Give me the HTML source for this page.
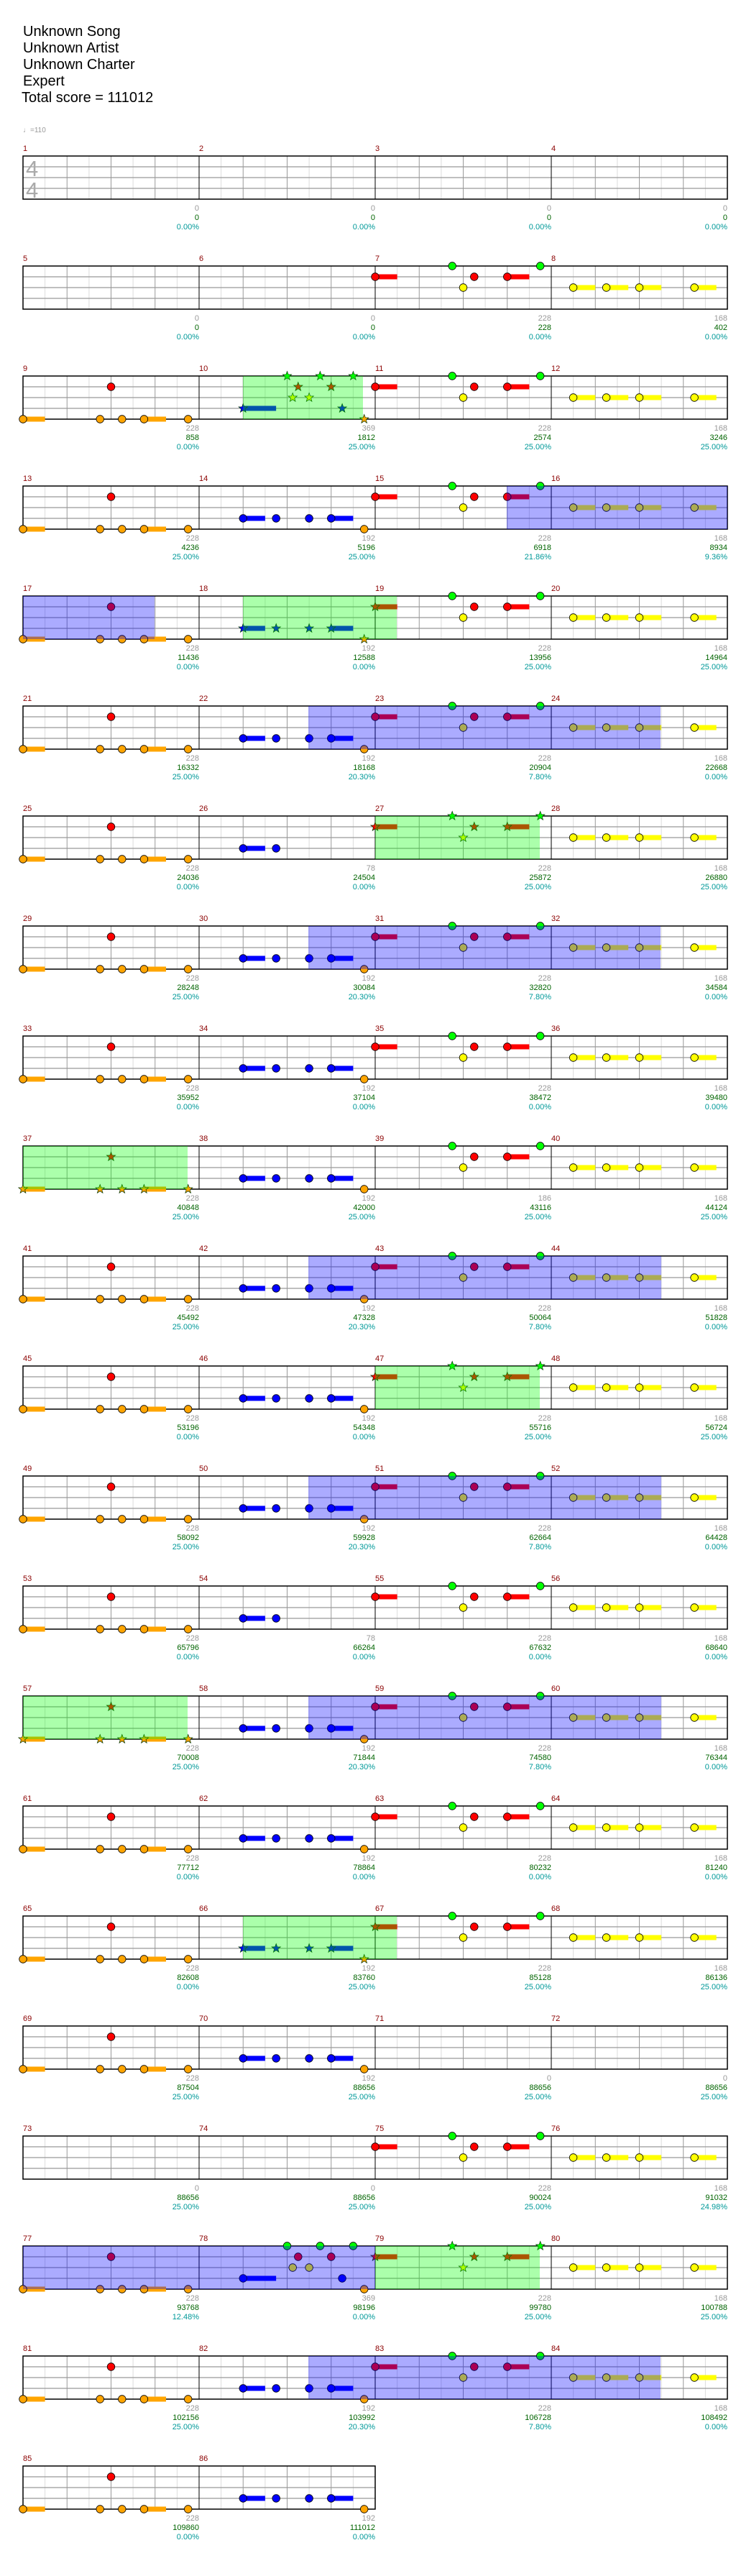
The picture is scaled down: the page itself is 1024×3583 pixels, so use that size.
<!DOCTYPE html>
<html><head><meta charset="utf-8"><style>
html,body{margin:0;padding:0;background:#fff;}
svg{display:block;}
.t{font-family:"Liberation Sans",sans-serif;font-size:20px;fill:#000;}
.mn{font-family:"Liberation Sans",sans-serif;font-size:11px;fill:#8b0000;}
.g{font-family:"Liberation Sans",sans-serif;font-size:11px;fill:#999;text-anchor:end;}
.s{font-family:"Liberation Sans",sans-serif;font-size:11px;fill:#006400;text-anchor:end;}
.p{font-family:"Liberation Sans",sans-serif;font-size:11px;fill:#009999;text-anchor:end;}
</style></head><body>
<svg width="1024" height="3583" viewBox="0 0 1024 3583" xmlns="http://www.w3.org/2000/svg">
<defs>
<g id="st">
<rect x="0" y="0" width="980" height="60" fill="#fff"/>
<path d="M30.6 0V60M91.9 0V60M153.1 0V60M214.4 0V60M275.6 0V60M336.9 0V60M398.1 0V60M459.4 0V60M520.6 0V60M581.9 0V60M643.1 0V60M704.4 0V60M765.6 0V60M826.9 0V60M888.1 0V60M949.4 0V60" stroke="#ddd" stroke-width="1"/>
<path d="M61.25 0V60M122.5 0V60M183.75 0V60M306.25 0V60M367.5 0V60M428.75 0V60M551.25 0V60M612.5 0V60M673.75 0V60M796.25 0V60M857.5 0V60M918.75 0V60" stroke="#999" stroke-width="1"/>
<path d="M0 15H980M0 30H980M0 45H980" stroke="#999" stroke-width="1.3"/>
<path d="M245 0V60M490 0V60M735 0V60" stroke="#000" stroke-width="1"/>
<rect x="0" y="0" width="980" height="60" fill="none" stroke="#000" stroke-width="1.5"/>
</g>
<g id="st2">
<rect x="0" y="0" width="490" height="60" fill="#fff"/>
<path d="M30.6 0V60M91.9 0V60M153.1 0V60M214.4 0V60M275.6 0V60M336.9 0V60M398.1 0V60M459.4 0V60" stroke="#ddd" stroke-width="1"/>
<path d="M61.25 0V60M122.5 0V60M183.75 0V60M306.25 0V60M367.5 0V60M428.75 0V60" stroke="#999" stroke-width="1"/>
<path d="M0 15H490M0 30H490M0 45H490" stroke="#999" stroke-width="1.3"/>
<path d="M245 0V60" stroke="#000" stroke-width="1"/>
<rect x="0" y="0" width="490" height="60" fill="none" stroke="#000" stroke-width="1.5"/>
</g>
<circle id="nG" r="5.3" fill="#00ff00" stroke="#000" stroke-width=".8"/>
<circle id="nR" r="5.3" fill="#ff0000" stroke="#000" stroke-width=".8"/>
<circle id="nY" r="5.3" fill="#ffff00" stroke="#000" stroke-width=".8"/>
<circle id="nB" r="5.3" fill="#0000ff" stroke="#000" stroke-width=".8"/>
<circle id="nO" r="5.3" fill="#ffa500" stroke="#000" stroke-width=".8"/>
<polygon id="sG" points="0,-6.5 1.59,-2.18 6.18,-2.01 2.57,0.83 3.82,5.26 0,2.7 -3.82,5.26 -2.57,0.83 -6.18,-2.01 -1.59,-2.18" fill="#00ff00" stroke="#030" stroke-width=".7"/>
<polygon id="sR" points="0,-6.5 1.59,-2.18 6.18,-2.01 2.57,0.83 3.82,5.26 0,2.7 -3.82,5.26 -2.57,0.83 -6.18,-2.01 -1.59,-2.18" fill="#ff0000" stroke="#030" stroke-width=".7"/>
<polygon id="sY" points="0,-6.5 1.59,-2.18 6.18,-2.01 2.57,0.83 3.82,5.26 0,2.7 -3.82,5.26 -2.57,0.83 -6.18,-2.01 -1.59,-2.18" fill="#ffff00" stroke="#030" stroke-width=".7"/>
<polygon id="sB" points="0,-6.5 1.59,-2.18 6.18,-2.01 2.57,0.83 3.82,5.26 0,2.7 -3.82,5.26 -2.57,0.83 -6.18,-2.01 -1.59,-2.18" fill="#0000ff" stroke="#030" stroke-width=".7"/>
<polygon id="sO" points="0,-6.5 1.59,-2.18 6.18,-2.01 2.57,0.83 3.82,5.26 0,2.7 -3.82,5.26 -2.57,0.83 -6.18,-2.01 -1.59,-2.18" fill="#ffa500" stroke="#030" stroke-width=".7"/>

<g id="mO">
<rect x="0" y="56.5" width="30.6" height="7" fill="#ffa500"/><rect x="168.4" y="56.5" width="30.6" height="7" fill="#ffa500"/>
<use href="#nO" x="0" y="60"/><use href="#nO" x="107.2" y="60"/><use href="#nO" x="137.8" y="60"/><use href="#nO" x="168.4" y="60"/><use href="#nO" x="229.7" y="60"/><use href="#nR" x="122.5" y="15"/>
</g>
<g id="mOS">
<rect x="0" y="56.5" width="30.6" height="7" fill="#ffa500"/><rect x="168.4" y="56.5" width="30.6" height="7" fill="#ffa500"/>
<use href="#sO" x="0" y="60"/><use href="#sO" x="107.2" y="60"/><use href="#sO" x="137.8" y="60"/><use href="#sO" x="168.4" y="60"/><use href="#sO" x="229.7" y="60"/><use href="#sR" x="122.5" y="15"/>
</g>
<g id="mB">
<rect x="61.25" y="41.5" width="30.6" height="7" fill="#0000ff"/><rect x="183.75" y="41.5" width="30.6" height="7" fill="#0000ff"/>
<use href="#nB" x="61.25" y="45"/><use href="#nB" x="107.2" y="45"/><use href="#nB" x="153.1" y="45"/><use href="#nB" x="183.75" y="45"/><use href="#nO" x="229.7" y="60"/>
</g>
<g id="mBS">
<rect x="61.25" y="41.5" width="30.6" height="7" fill="#0000ff"/><rect x="183.75" y="41.5" width="30.6" height="7" fill="#0000ff"/>
<use href="#sB" x="61.25" y="45"/><use href="#sB" x="107.2" y="45"/><use href="#sB" x="153.1" y="45"/><use href="#sB" x="183.75" y="45"/><use href="#sO" x="229.7" y="60"/>
</g>
<g id="mB2">
<rect x="61.25" y="41.5" width="30.6" height="7" fill="#0000ff"/>
<use href="#nB" x="61.25" y="45"/><use href="#nB" x="107.2" y="45"/>
</g>
<g id="mRt">
<rect x="183.75" y="11.5" width="30.6" height="7" fill="#ff0000"/>
<use href="#nG" x="107.2" y="0"/><use href="#nY" x="122.5" y="30"/><use href="#nR" x="137.8" y="15"/><use href="#nR" x="183.75" y="15"/><use href="#nG" x="229.7" y="0"/>
</g>
<g id="mR">
<rect x="0" y="11.5" width="30.6" height="7" fill="#ff0000"/><use href="#nR" x="0" y="15"/><use href="#mRt"/>
</g>
<g id="mRs0">
<rect x="0" y="11.5" width="30.6" height="7" fill="#ff0000"/><use href="#sR" x="0" y="15"/><use href="#mRt"/>
</g>
<g id="mRS">
<rect x="0" y="11.5" width="30.6" height="7" fill="#ff0000"/><rect x="183.75" y="11.5" width="30.6" height="7" fill="#ff0000"/>
<use href="#sR" x="0" y="15"/><use href="#sG" x="107.2" y="0"/><use href="#sY" x="122.5" y="30"/><use href="#sR" x="137.8" y="15"/><use href="#sR" x="183.75" y="15"/><use href="#sG" x="229.7" y="0"/>
</g>
<g id="mY">
<rect x="30.6" y="26.5" width="30.6" height="7" fill="#ffff00"/><rect x="76.6" y="26.5" width="30.6" height="7" fill="#ffff00"/><rect x="122.5" y="26.5" width="30.6" height="7" fill="#ffff00"/><rect x="199.1" y="26.5" width="30.6" height="7" fill="#ffff00"/>
<use href="#nY" x="30.6" y="30"/><use href="#nY" x="76.6" y="30"/><use href="#nY" x="122.5" y="30"/><use href="#nY" x="199.1" y="30"/>
</g>
<g id="mX">
<rect x="61.25" y="41.5" width="45.9" height="7" fill="#0000ff"/>
<use href="#sB" x="61.25" y="45"/><use href="#sG" x="122.5" y="0"/><use href="#sG" x="168.4" y="0"/><use href="#sG" x="214.4" y="0"/><use href="#sR" x="137.8" y="15"/><use href="#sR" x="183.75" y="15"/><use href="#sY" x="130.2" y="30"/><use href="#sY" x="153.1" y="30"/><use href="#sB" x="199.1" y="45"/><use href="#sO" x="229.7" y="60"/>
</g>
<g id="mXc">
<rect x="61.25" y="41.5" width="45.9" height="7" fill="#0000ff"/>
<use href="#nB" x="61.25" y="45"/><use href="#nG" x="122.5" y="0"/><use href="#nG" x="168.4" y="0"/><use href="#nG" x="214.4" y="0"/><use href="#nR" x="137.8" y="15"/><use href="#nR" x="183.75" y="15"/><use href="#nY" x="130.2" y="30"/><use href="#nY" x="153.1" y="30"/><use href="#nB" x="199.1" y="45"/><use href="#nO" x="229.7" y="60"/>
</g>
</defs>

<rect width="1024" height="3583" fill="#fff"/>
<text class="t" x="32" y="50">Unknown Song</text>
<text class="t" x="32" y="73">Unknown Artist</text>
<text class="t" x="32" y="96">Unknown Charter</text>
<text class="t" x="32" y="119">Expert</text>
<text class="t" x="30" y="142">Total score = 111012</text>
<text x="32" y="184" style="font-family:'Liberation Sans','DejaVu Sans',sans-serif;font-size:10px;fill:#999">♩=110</text>

<!-- Row 1 -->
<g transform="translate(0,217)">
<use href="#st" x="32" y="0"/>
<text x="36" y="28" style="font-family:'Liberation Sans',sans-serif;font-size:31px;fill:#aaa">4</text>
<text x="36" y="58" style="font-family:'Liberation Sans',sans-serif;font-size:31px;fill:#aaa">4</text>
<text class="mn" x="32" y="-7">1</text><text class="mn" x="277" y="-7">2</text><text class="mn" x="522" y="-7">3</text><text class="mn" x="767" y="-7">4</text>
<text class="g" x="277" y="76">0</text><text class="s" x="277" y="89">0</text><text class="p" x="277" y="102">0.00%</text>
<text class="g" x="522" y="76">0</text><text class="s" x="522" y="89">0</text><text class="p" x="522" y="102">0.00%</text>
<text class="g" x="767" y="76">0</text><text class="s" x="767" y="89">0</text><text class="p" x="767" y="102">0.00%</text>
<text class="g" x="1012" y="76">0</text><text class="s" x="1012" y="89">0</text><text class="p" x="1012" y="102">0.00%</text>
</g>

<!-- Row 2 -->
<g transform="translate(0,370)">
<use href="#st" x="32" y="0"/>
<use href="#mR" x="522" y="0"/><use href="#mY" x="767" y="0"/>
<text class="mn" x="32" y="-7">5</text><text class="mn" x="277" y="-7">6</text><text class="mn" x="522" y="-7">7</text><text class="mn" x="767" y="-7">8</text>
<text class="g" x="277" y="76">0</text><text class="s" x="277" y="89">0</text><text class="p" x="277" y="102">0.00%</text>
<text class="g" x="522" y="76">0</text><text class="s" x="522" y="89">0</text><text class="p" x="522" y="102">0.00%</text>
<text class="g" x="767" y="76">228</text><text class="s" x="767" y="89">228</text><text class="p" x="767" y="102">0.00%</text>
<text class="g" x="1012" y="76">168</text><text class="s" x="1012" y="89">402</text><text class="p" x="1012" y="102">0.00%</text>
</g>

<!-- Row 3 -->
<g transform="translate(0,523)">
<use href="#st" x="32" y="0"/>
<use href="#mO" x="32" y="0"/><use href="#mX" x="277" y="0"/><use href="#mR" x="522" y="0"/><use href="#mY" x="767" y="0"/>
<rect x="338" y="0" width="167" height="60" fill="rgba(0,255,0,0.33)"/>
<text class="mn" x="32" y="-7">9</text><text class="mn" x="277" y="-7">10</text><text class="mn" x="522" y="-7">11</text><text class="mn" x="767" y="-7">12</text>
<text class="g" x="277" y="76">228</text><text class="s" x="277" y="89">858</text><text class="p" x="277" y="102">0.00%</text>
<text class="g" x="522" y="76">369</text><text class="s" x="522" y="89">1812</text><text class="p" x="522" y="102">25.00%</text>
<text class="g" x="767" y="76">228</text><text class="s" x="767" y="89">2574</text><text class="p" x="767" y="102">25.00%</text>
<text class="g" x="1012" y="76">168</text><text class="s" x="1012" y="89">3246</text><text class="p" x="1012" y="102">25.00%</text>
</g>

<!-- Row 4 -->
<g transform="translate(0,676)">
<use href="#st" x="32" y="0"/>
<use href="#mO" x="32" y="0"/><use href="#mB" x="277" y="0"/><use href="#mR" x="522" y="0"/><use href="#mY" x="767" y="0"/>
<rect x="705" y="0" width="307" height="60" fill="rgba(0,0,255,0.33)"/>
<text class="mn" x="32" y="-7">13</text><text class="mn" x="277" y="-7">14</text><text class="mn" x="522" y="-7">15</text><text class="mn" x="767" y="-7">16</text>
<text class="g" x="277" y="76">228</text><text class="s" x="277" y="89">4236</text><text class="p" x="277" y="102">25.00%</text>
<text class="g" x="522" y="76">192</text><text class="s" x="522" y="89">5196</text><text class="p" x="522" y="102">25.00%</text>
<text class="g" x="767" y="76">228</text><text class="s" x="767" y="89">6918</text><text class="p" x="767" y="102">21.86%</text>
<text class="g" x="1012" y="76">168</text><text class="s" x="1012" y="89">8934</text><text class="p" x="1012" y="102">9.36%</text>
</g>

<!-- Row 5 -->
<g transform="translate(0,829)">
<use href="#st" x="32" y="0"/>
<use href="#mO" x="32" y="0"/><use href="#mBS" x="277" y="0"/><use href="#mRs0" x="522" y="0"/><use href="#mY" x="767" y="0"/>
<rect x="32" y="0" width="183" height="60" fill="rgba(0,0,255,0.33)"/>
<rect x="338" y="0" width="214" height="60" fill="rgba(0,255,0,0.33)"/>
<text class="mn" x="32" y="-7">17</text><text class="mn" x="277" y="-7">18</text><text class="mn" x="522" y="-7">19</text><text class="mn" x="767" y="-7">20</text>
<text class="g" x="277" y="76">228</text><text class="s" x="277" y="89">11436</text><text class="p" x="277" y="102">0.00%</text>
<text class="g" x="522" y="76">192</text><text class="s" x="522" y="89">12588</text><text class="p" x="522" y="102">0.00%</text>
<text class="g" x="767" y="76">228</text><text class="s" x="767" y="89">13956</text><text class="p" x="767" y="102">25.00%</text>
<text class="g" x="1012" y="76">168</text><text class="s" x="1012" y="89">14964</text><text class="p" x="1012" y="102">25.00%</text>
</g>

<!-- Row 6 -->
<g transform="translate(0,982)">
<use href="#st" x="32" y="0"/>
<use href="#mO" x="32" y="0"/><use href="#mB" x="277" y="0"/><use href="#mR" x="522" y="0"/><use href="#mY" x="767" y="0"/>
<rect x="429" y="0" width="490" height="60" fill="rgba(0,0,255,0.33)"/>
<text class="mn" x="32" y="-7">21</text><text class="mn" x="277" y="-7">22</text><text class="mn" x="522" y="-7">23</text><text class="mn" x="767" y="-7">24</text>
<text class="g" x="277" y="76">228</text><text class="s" x="277" y="89">16332</text><text class="p" x="277" y="102">25.00%</text>
<text class="g" x="522" y="76">192</text><text class="s" x="522" y="89">18168</text><text class="p" x="522" y="102">20.30%</text>
<text class="g" x="767" y="76">228</text><text class="s" x="767" y="89">20904</text><text class="p" x="767" y="102">7.80%</text>
<text class="g" x="1012" y="76">168</text><text class="s" x="1012" y="89">22668</text><text class="p" x="1012" y="102">0.00%</text>
</g>

<!-- Row 7 -->
<g transform="translate(0,1135)">
<use href="#st" x="32" y="0"/>
<use href="#mO" x="32" y="0"/><use href="#mB2" x="277" y="0"/><use href="#mRS" x="522" y="0"/><use href="#mY" x="767" y="0"/>
<rect x="522" y="0" width="229" height="60" fill="rgba(0,255,0,0.33)"/>
<text class="mn" x="32" y="-7">25</text><text class="mn" x="277" y="-7">26</text><text class="mn" x="522" y="-7">27</text><text class="mn" x="767" y="-7">28</text>
<text class="g" x="277" y="76">228</text><text class="s" x="277" y="89">24036</text><text class="p" x="277" y="102">0.00%</text>
<text class="g" x="522" y="76">78</text><text class="s" x="522" y="89">24504</text><text class="p" x="522" y="102">0.00%</text>
<text class="g" x="767" y="76">228</text><text class="s" x="767" y="89">25872</text><text class="p" x="767" y="102">25.00%</text>
<text class="g" x="1012" y="76">168</text><text class="s" x="1012" y="89">26880</text><text class="p" x="1012" y="102">25.00%</text>
</g>

<!-- Row 8 -->
<g transform="translate(0,1288)">
<use href="#st" x="32" y="0"/>
<use href="#mO" x="32" y="0"/><use href="#mB" x="277" y="0"/><use href="#mR" x="522" y="0"/><use href="#mY" x="767" y="0"/>
<rect x="429" y="0" width="490" height="60" fill="rgba(0,0,255,0.33)"/>
<text class="mn" x="32" y="-7">29</text><text class="mn" x="277" y="-7">30</text><text class="mn" x="522" y="-7">31</text><text class="mn" x="767" y="-7">32</text>
<text class="g" x="277" y="76">228</text><text class="s" x="277" y="89">28248</text><text class="p" x="277" y="102">25.00%</text>
<text class="g" x="522" y="76">192</text><text class="s" x="522" y="89">30084</text><text class="p" x="522" y="102">20.30%</text>
<text class="g" x="767" y="76">228</text><text class="s" x="767" y="89">32820</text><text class="p" x="767" y="102">7.80%</text>
<text class="g" x="1012" y="76">168</text><text class="s" x="1012" y="89">34584</text><text class="p" x="1012" y="102">0.00%</text>
</g>

<!-- Row 9 -->
<g transform="translate(0,1441)">
<use href="#st" x="32" y="0"/>
<use href="#mO" x="32" y="0"/><use href="#mB" x="277" y="0"/><use href="#mR" x="522" y="0"/><use href="#mY" x="767" y="0"/>
<text class="mn" x="32" y="-7">33</text><text class="mn" x="277" y="-7">34</text><text class="mn" x="522" y="-7">35</text><text class="mn" x="767" y="-7">36</text>
<text class="g" x="277" y="76">228</text><text class="s" x="277" y="89">35952</text><text class="p" x="277" y="102">0.00%</text>
<text class="g" x="522" y="76">192</text><text class="s" x="522" y="89">37104</text><text class="p" x="522" y="102">0.00%</text>
<text class="g" x="767" y="76">228</text><text class="s" x="767" y="89">38472</text><text class="p" x="767" y="102">0.00%</text>
<text class="g" x="1012" y="76">168</text><text class="s" x="1012" y="89">39480</text><text class="p" x="1012" y="102">0.00%</text>
</g>

<!-- Row 10 -->
<g transform="translate(0,1594)">
<use href="#st" x="32" y="0"/>
<use href="#mOS" x="32" y="0"/><use href="#mB" x="277" y="0"/><use href="#mRt" x="522" y="0"/><use href="#mY" x="767" y="0"/>
<rect x="32" y="0" width="229" height="60" fill="rgba(0,255,0,0.33)"/>
<text class="mn" x="32" y="-7">37</text><text class="mn" x="277" y="-7">38</text><text class="mn" x="522" y="-7">39</text><text class="mn" x="767" y="-7">40</text>
<text class="g" x="277" y="76">228</text><text class="s" x="277" y="89">40848</text><text class="p" x="277" y="102">25.00%</text>
<text class="g" x="522" y="76">192</text><text class="s" x="522" y="89">42000</text><text class="p" x="522" y="102">25.00%</text>
<text class="g" x="767" y="76">186</text><text class="s" x="767" y="89">43116</text><text class="p" x="767" y="102">25.00%</text>
<text class="g" x="1012" y="76">168</text><text class="s" x="1012" y="89">44124</text><text class="p" x="1012" y="102">25.00%</text>
</g>

<!-- Row 11 -->
<g transform="translate(0,1747)">
<use href="#st" x="32" y="0"/>
<use href="#mO" x="32" y="0"/><use href="#mB" x="277" y="0"/><use href="#mR" x="522" y="0"/><use href="#mY" x="767" y="0"/>
<rect x="429" y="0" width="491" height="60" fill="rgba(0,0,255,0.33)"/>
<text class="mn" x="32" y="-7">41</text><text class="mn" x="277" y="-7">42</text><text class="mn" x="522" y="-7">43</text><text class="mn" x="767" y="-7">44</text>
<text class="g" x="277" y="76">228</text><text class="s" x="277" y="89">45492</text><text class="p" x="277" y="102">25.00%</text>
<text class="g" x="522" y="76">192</text><text class="s" x="522" y="89">47328</text><text class="p" x="522" y="102">20.30%</text>
<text class="g" x="767" y="76">228</text><text class="s" x="767" y="89">50064</text><text class="p" x="767" y="102">7.80%</text>
<text class="g" x="1012" y="76">168</text><text class="s" x="1012" y="89">51828</text><text class="p" x="1012" y="102">0.00%</text>
</g>

<!-- Row 12 -->
<g transform="translate(0,1900)">
<use href="#st" x="32" y="0"/>
<use href="#mO" x="32" y="0"/><use href="#mB" x="277" y="0"/><use href="#mRS" x="522" y="0"/><use href="#mY" x="767" y="0"/>
<rect x="522" y="0" width="229" height="60" fill="rgba(0,255,0,0.33)"/>
<text class="mn" x="32" y="-7">45</text><text class="mn" x="277" y="-7">46</text><text class="mn" x="522" y="-7">47</text><text class="mn" x="767" y="-7">48</text>
<text class="g" x="277" y="76">228</text><text class="s" x="277" y="89">53196</text><text class="p" x="277" y="102">0.00%</text>
<text class="g" x="522" y="76">192</text><text class="s" x="522" y="89">54348</text><text class="p" x="522" y="102">0.00%</text>
<text class="g" x="767" y="76">228</text><text class="s" x="767" y="89">55716</text><text class="p" x="767" y="102">25.00%</text>
<text class="g" x="1012" y="76">168</text><text class="s" x="1012" y="89">56724</text><text class="p" x="1012" y="102">25.00%</text>
</g>

<!-- Row 13 -->
<g transform="translate(0,2053)">
<use href="#st" x="32" y="0"/>
<use href="#mO" x="32" y="0"/><use href="#mB" x="277" y="0"/><use href="#mR" x="522" y="0"/><use href="#mY" x="767" y="0"/>
<rect x="429" y="0" width="491" height="60" fill="rgba(0,0,255,0.33)"/>
<text class="mn" x="32" y="-7">49</text><text class="mn" x="277" y="-7">50</text><text class="mn" x="522" y="-7">51</text><text class="mn" x="767" y="-7">52</text>
<text class="g" x="277" y="76">228</text><text class="s" x="277" y="89">58092</text><text class="p" x="277" y="102">25.00%</text>
<text class="g" x="522" y="76">192</text><text class="s" x="522" y="89">59928</text><text class="p" x="522" y="102">20.30%</text>
<text class="g" x="767" y="76">228</text><text class="s" x="767" y="89">62664</text><text class="p" x="767" y="102">7.80%</text>
<text class="g" x="1012" y="76">168</text><text class="s" x="1012" y="89">64428</text><text class="p" x="1012" y="102">0.00%</text>
</g>

<!-- Row 14 -->
<g transform="translate(0,2206)">
<use href="#st" x="32" y="0"/>
<use href="#mO" x="32" y="0"/><use href="#mB2" x="277" y="0"/><use href="#mR" x="522" y="0"/><use href="#mY" x="767" y="0"/>
<text class="mn" x="32" y="-7">53</text><text class="mn" x="277" y="-7">54</text><text class="mn" x="522" y="-7">55</text><text class="mn" x="767" y="-7">56</text>
<text class="g" x="277" y="76">228</text><text class="s" x="277" y="89">65796</text><text class="p" x="277" y="102">0.00%</text>
<text class="g" x="522" y="76">78</text><text class="s" x="522" y="89">66264</text><text class="p" x="522" y="102">0.00%</text>
<text class="g" x="767" y="76">228</text><text class="s" x="767" y="89">67632</text><text class="p" x="767" y="102">0.00%</text>
<text class="g" x="1012" y="76">168</text><text class="s" x="1012" y="89">68640</text><text class="p" x="1012" y="102">0.00%</text>
</g>

<!-- Row 15 -->
<g transform="translate(0,2359)">
<use href="#st" x="32" y="0"/>
<use href="#mOS" x="32" y="0"/><use href="#mB" x="277" y="0"/><use href="#mR" x="522" y="0"/><use href="#mY" x="767" y="0"/>
<rect x="32" y="0" width="229" height="60" fill="rgba(0,255,0,0.33)"/>
<rect x="429" y="0" width="491" height="60" fill="rgba(0,0,255,0.33)"/>
<text class="mn" x="32" y="-7">57</text><text class="mn" x="277" y="-7">58</text><text class="mn" x="522" y="-7">59</text><text class="mn" x="767" y="-7">60</text>
<text class="g" x="277" y="76">228</text><text class="s" x="277" y="89">70008</text><text class="p" x="277" y="102">25.00%</text>
<text class="g" x="522" y="76">192</text><text class="s" x="522" y="89">71844</text><text class="p" x="522" y="102">20.30%</text>
<text class="g" x="767" y="76">228</text><text class="s" x="767" y="89">74580</text><text class="p" x="767" y="102">7.80%</text>
<text class="g" x="1012" y="76">168</text><text class="s" x="1012" y="89">76344</text><text class="p" x="1012" y="102">0.00%</text>
</g>

<!-- Row 16 -->
<g transform="translate(0,2512)">
<use href="#st" x="32" y="0"/>
<use href="#mO" x="32" y="0"/><use href="#mB" x="277" y="0"/><use href="#mR" x="522" y="0"/><use href="#mY" x="767" y="0"/>
<text class="mn" x="32" y="-7">61</text><text class="mn" x="277" y="-7">62</text><text class="mn" x="522" y="-7">63</text><text class="mn" x="767" y="-7">64</text>
<text class="g" x="277" y="76">228</text><text class="s" x="277" y="89">77712</text><text class="p" x="277" y="102">0.00%</text>
<text class="g" x="522" y="76">192</text><text class="s" x="522" y="89">78864</text><text class="p" x="522" y="102">0.00%</text>
<text class="g" x="767" y="76">228</text><text class="s" x="767" y="89">80232</text><text class="p" x="767" y="102">0.00%</text>
<text class="g" x="1012" y="76">168</text><text class="s" x="1012" y="89">81240</text><text class="p" x="1012" y="102">0.00%</text>
</g>

<!-- Row 17 -->
<g transform="translate(0,2665)">
<use href="#st" x="32" y="0"/>
<use href="#mO" x="32" y="0"/><use href="#mBS" x="277" y="0"/><use href="#mRs0" x="522" y="0"/><use href="#mY" x="767" y="0"/>
<rect x="338" y="0" width="214" height="60" fill="rgba(0,255,0,0.33)"/>
<text class="mn" x="32" y="-7">65</text><text class="mn" x="277" y="-7">66</text><text class="mn" x="522" y="-7">67</text><text class="mn" x="767" y="-7">68</text>
<text class="g" x="277" y="76">228</text><text class="s" x="277" y="89">82608</text><text class="p" x="277" y="102">0.00%</text>
<text class="g" x="522" y="76">192</text><text class="s" x="522" y="89">83760</text><text class="p" x="522" y="102">25.00%</text>
<text class="g" x="767" y="76">228</text><text class="s" x="767" y="89">85128</text><text class="p" x="767" y="102">25.00%</text>
<text class="g" x="1012" y="76">168</text><text class="s" x="1012" y="89">86136</text><text class="p" x="1012" y="102">25.00%</text>
</g>

<!-- Row 18 -->
<g transform="translate(0,2818)">
<use href="#st" x="32" y="0"/>
<use href="#mO" x="32" y="0"/><use href="#mB" x="277" y="0"/>
<text class="mn" x="32" y="-7">69</text><text class="mn" x="277" y="-7">70</text><text class="mn" x="522" y="-7">71</text><text class="mn" x="767" y="-7">72</text>
<text class="g" x="277" y="76">228</text><text class="s" x="277" y="89">87504</text><text class="p" x="277" y="102">25.00%</text>
<text class="g" x="522" y="76">192</text><text class="s" x="522" y="89">88656</text><text class="p" x="522" y="102">25.00%</text>
<text class="g" x="767" y="76">0</text><text class="s" x="767" y="89">88656</text><text class="p" x="767" y="102">25.00%</text>
<text class="g" x="1012" y="76">0</text><text class="s" x="1012" y="89">88656</text><text class="p" x="1012" y="102">25.00%</text>
</g>

<!-- Row 19 -->
<g transform="translate(0,2971)">
<use href="#st" x="32" y="0"/>
<use href="#mR" x="522" y="0"/><use href="#mY" x="767" y="0"/>
<text class="mn" x="32" y="-7">73</text><text class="mn" x="277" y="-7">74</text><text class="mn" x="522" y="-7">75</text><text class="mn" x="767" y="-7">76</text>
<text class="g" x="277" y="76">0</text><text class="s" x="277" y="89">88656</text><text class="p" x="277" y="102">25.00%</text>
<text class="g" x="522" y="76">0</text><text class="s" x="522" y="89">88656</text><text class="p" x="522" y="102">25.00%</text>
<text class="g" x="767" y="76">228</text><text class="s" x="767" y="89">90024</text><text class="p" x="767" y="102">25.00%</text>
<text class="g" x="1012" y="76">168</text><text class="s" x="1012" y="89">91032</text><text class="p" x="1012" y="102">24.98%</text>
</g>

<!-- Row 20 -->
<g transform="translate(0,3124)">
<use href="#st" x="32" y="0"/>
<use href="#mO" x="32" y="0"/><use href="#mXc" x="277" y="0"/><use href="#mRS" x="522" y="0"/><use href="#mY" x="767" y="0"/>
<rect x="32" y="0" width="490" height="60" fill="rgba(0,0,255,0.33)"/>
<rect x="522" y="0" width="229" height="60" fill="rgba(0,255,0,0.33)"/>
<text class="mn" x="32" y="-7">77</text><text class="mn" x="277" y="-7">78</text><text class="mn" x="522" y="-7">79</text><text class="mn" x="767" y="-7">80</text>
<text class="g" x="277" y="76">228</text><text class="s" x="277" y="89">93768</text><text class="p" x="277" y="102">12.48%</text>
<text class="g" x="522" y="76">369</text><text class="s" x="522" y="89">98196</text><text class="p" x="522" y="102">0.00%</text>
<text class="g" x="767" y="76">228</text><text class="s" x="767" y="89">99780</text><text class="p" x="767" y="102">25.00%</text>
<text class="g" x="1012" y="76">168</text><text class="s" x="1012" y="89">100788</text><text class="p" x="1012" y="102">25.00%</text>
</g>

<!-- Row 21 -->
<g transform="translate(0,3277)">
<use href="#st" x="32" y="0"/>
<use href="#mO" x="32" y="0"/><use href="#mB" x="277" y="0"/><use href="#mR" x="522" y="0"/><use href="#mY" x="767" y="0"/>
<rect x="429" y="0" width="490" height="60" fill="rgba(0,0,255,0.33)"/>
<text class="mn" x="32" y="-7">81</text><text class="mn" x="277" y="-7">82</text><text class="mn" x="522" y="-7">83</text><text class="mn" x="767" y="-7">84</text>
<text class="g" x="277" y="76">228</text><text class="s" x="277" y="89">102156</text><text class="p" x="277" y="102">25.00%</text>
<text class="g" x="522" y="76">192</text><text class="s" x="522" y="89">103992</text><text class="p" x="522" y="102">20.30%</text>
<text class="g" x="767" y="76">228</text><text class="s" x="767" y="89">106728</text><text class="p" x="767" y="102">7.80%</text>
<text class="g" x="1012" y="76">168</text><text class="s" x="1012" y="89">108492</text><text class="p" x="1012" y="102">0.00%</text>
</g>

<!-- Row 22 -->
<g transform="translate(0,3430)">
<use href="#st2" x="32" y="0"/>
<use href="#mO" x="32" y="0"/><use href="#mB" x="277" y="0"/>
<text class="mn" x="32" y="-7">85</text><text class="mn" x="277" y="-7">86</text>
<text class="g" x="277" y="76">228</text><text class="s" x="277" y="89">109860</text><text class="p" x="277" y="102">0.00%</text>
<text class="g" x="522" y="76">192</text><text class="s" x="522" y="89">111012</text><text class="p" x="522" y="102">0.00%</text>
</g>
</svg>
</body></html>
